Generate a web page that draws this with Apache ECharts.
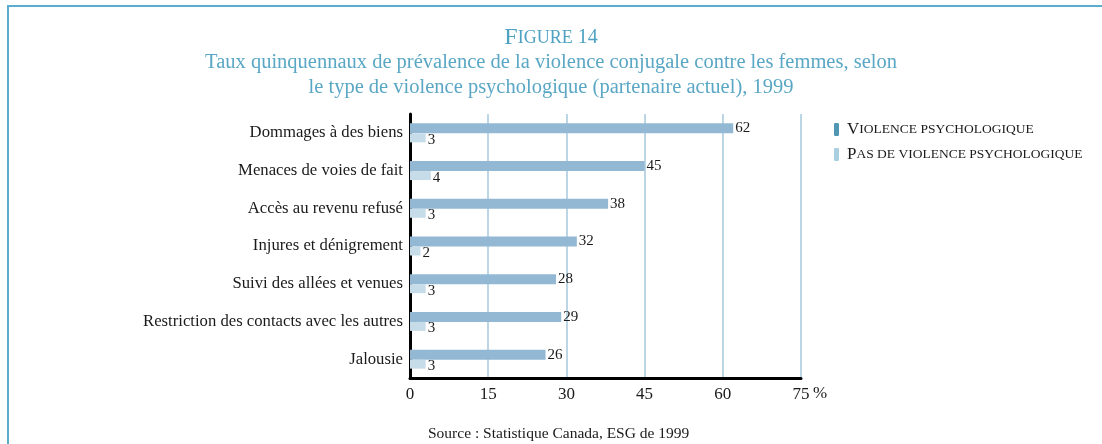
<!DOCTYPE html>
<html>
<head>
<meta charset="UTF-8">
<title>Figure 14</title>
<script src="https://cdn.jsdelivr.net/npm/echarts@6/dist/echarts.min.js"></script>
<style>
  html, body { margin: 0; padding: 0; background: #fff; }
  #main { width: 1102px; height: 444px; }
</style>
</head>
<body>
<div id="main"></div>
<script>
// données
var categories = [
  'Dommages à des biens',
  'Menaces de voies de fait',
  'Accès au revenu refusé',
  'Injures et dénigrement',
  'Suivi des allées et venues',
  'Restriction des contacts avec les autres',
  'Jalousie'
];
var avecViolence = [62, 45, 38, 32, 28, 29, 26];
var sansViolence = [3, 4, 3, 2, 3, 3, 3];
var seriesNames = ['Violence psychologique', 'Pas de violence psychologique'];
var xTicks = [0, 15, 30, 45, 60, 75];

var serif = '"Liberation Serif", "DejaVu Serif", serif';
var titleBlue = '#4fa2c2';

// petites capitales : première lettre en grand, le reste en petit
function smallCaps(name) {
  return '{b|' + name.charAt(0).toUpperCase() + '}{s|' + name.slice(1).toUpperCase() + '}';
}

var chart = echarts.init(document.getElementById('main'));

chart.setOption({
  animation: false,
  title: {
    left: 'center',
    top: 21,
    itemGap: 0,
    text: '{b|F}{s|IGURE} {n|14}',
    textStyle: {
      rich: {
        b: { fontFamily: serif, fontWeight: 'normal', fontSize: 24, color: titleBlue },
        s: { fontFamily: serif, fontWeight: 'normal', fontSize: 18, color: titleBlue },
        n: { fontFamily: serif, fontWeight: 'normal', fontSize: 20, color: titleBlue }
      }
    },
    subtext: 'Taux quinquennaux de prévalence de la violence conjugale contre les femmes, selon\nle type de violence psychologique (partenaire actuel), 1999',
    subtextStyle: {
      fontFamily: serif,
      fontSize: 20.5,
      lineHeight: 25,
      color: '#5aa7c5',
      align: 'center'
    }
  },
  legend: {
    orient: 'vertical',
    left: 829,
    top: 116,
    itemWidth: 5,
    itemHeight: 13,
    itemGap: 8,
    selectedMode: false,
    data: [
      { name: seriesNames[0], itemStyle: { color: '#4f97b2' } },
      { name: seriesNames[1], itemStyle: { color: '#a9cfe0' } }
    ],
    formatter: smallCaps,
    textStyle: {
      padding: [0, 0, 0, 3],
      rich: {
        b: { fontFamily: serif, fontSize: 17, color: '#1a1a1a' },
        s: { fontFamily: serif, fontSize: 13.5, color: '#1a1a1a' }
      }
    }
  },
  grid: {
    left: 410,
    right: 301,
    top: 114,
    bottom: 66,
    containLabel: false
  },
  xAxis: {
    type: 'value',
    min: xTicks[0],
    max: xTicks[xTicks.length - 1],
    interval: xTicks[1] - xTicks[0],
    axisLine: { show: true, lineStyle: { color: '#000', width: 3 } },
    axisTick: { show: false },
    axisLabel: {
      margin: 8,
      fontFamily: serif,
      fontSize: 17,
      color: '#1a1a1a'
    },
    splitLine: { show: true, lineStyle: { color: '#a6c8dd', width: 1.5 } }
  },
  yAxis: {
    type: 'category',
    inverse: true,
    data: categories,
    axisLine: { show: true, onZero: false, lineStyle: { color: '#000', width: 3 } },
    axisTick: { show: false },
    axisLabel: {
      margin: 7,
      fontFamily: serif,
      fontSize: 16.7,
      color: '#1a1a1a'
    }
  },
  series: [
    {
      name: seriesNames[0],
      type: 'bar',
      data: avecViolence,
      barWidth: 10,
      barGap: '0%',
      itemStyle: { color: '#93b8d3' },
      label: {
        show: true,
        position: 'right',
        distance: 2,
        fontFamily: serif,
        fontSize: 15,
        color: '#1a1a1a'
      }
    },
    {
      name: seriesNames[1],
      type: 'bar',
      data: sansViolence,
      barWidth: 9,
      itemStyle: { color: '#c7dce9' },
      label: {
        show: true,
        position: 'right',
        distance: 2,
        offset: [0, 2],
        fontFamily: serif,
        fontSize: 15,
        color: '#1a1a1a'
      }
    }
  ],
  graphic: [
    {
      type: 'rect',
      silent: true,
      shape: { x: 8, y: 6, width: 1120, height: 460 },
      style: { fill: null, stroke: '#5aadcd', lineWidth: 2 }
    },
    {
      type: 'text',
      left: 813,
      top: 385,
      style: { text: '%', fontFamily: serif, fontSize: 17, fill: '#1a1a1a' }
    },
    {
      type: 'text',
      left: 428,
      top: 426,
      style: {
        text: 'Source : Statistique Canada, ESG de 1999',
        fontFamily: serif,
        fontSize: 15.5,
        fill: '#1a1a1a'
      }
    }
  ]
});
</script>
</body>
</html>
